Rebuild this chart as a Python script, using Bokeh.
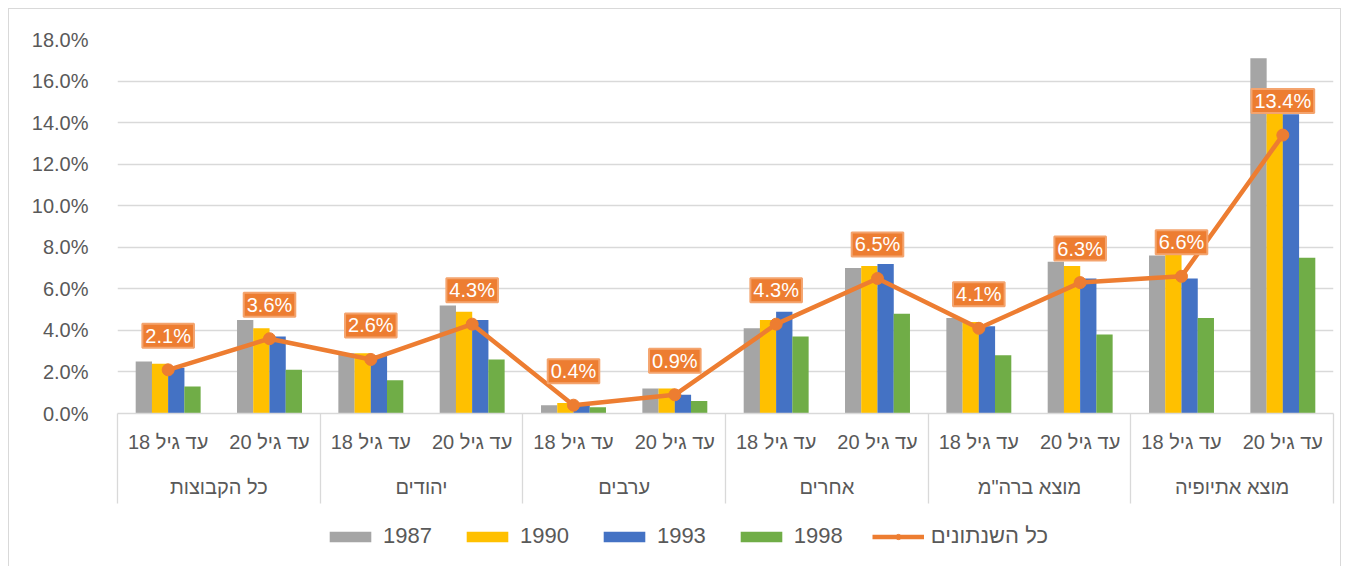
from bokeh.plotting import figure
from bokeh.layouts import column, row
from bokeh.models import (FactorRange, Range1d, ColumnDataSource, SingleIntervalTicker, Spacer,
                          PrintfTickFormatter, LinearAxis, FixedTicker, CustomJSTickFormatter)
from bokeh.transform import dodge
from bokeh.core.properties import value
from bokeh.embed import file_html
from bokeh.resources import INLINE

groups = ["כל הקבוצות", "יהודים", "ערבים", "אחרים", "מוצא ברה\"מ", "מוצא אתיופיה"]
ages = ["עד גיל 18", "עד גיל 20"]
years = ["1987", "1990", "1993", "1998"]
line_name = "כל השנתונים"

v1987 = [2.5, 4.5, 2.9, 5.2, 0.4, 1.2, 4.1, 7.0, 4.6, 7.3, 7.6, 17.1]
v1990 = [2.4, 4.1, 2.9, 4.9, 0.5, 1.2, 4.5, 7.1, 4.4, 7.1, 7.7, 14.6]
v1993 = [2.2, 3.7, 2.8, 4.5, 0.4, 0.9, 4.9, 7.2, 4.2, 6.5, 6.5, 14.4]
v1998 = [1.3, 2.1, 1.6, 2.6, 0.3, 0.6, 3.7, 4.8, 2.8, 3.8, 4.6, 7.5]
all_years = [2.1, 3.6, 2.6, 4.3, 0.4, 0.9, 4.3, 6.5, 4.1, 6.3, 6.6, 13.4]

factors = [(g, a + "\n ") for g in groups for a in ages]

FONT = "Liberation Sans"
GREY_TXT = "#595959"
colors = ["#A5A5A5", "#FFC000", "#4472C4", "#70AD47"]
ORANGE = "#ED7D31"
BORDER = "1px solid #D9D9D9"

p = figure(width=1333, height=505, output_backend="svg", toolbar_location=None,
           x_range=FactorRange(*factors, factor_padding=0, group_padding=0, range_padding=0),
           y_range=Range1d(0, 18),
           min_border_left=108, min_border_right=9, min_border_top=30, min_border_bottom=101)
p.styles = {"border-top": BORDER, "border-left": BORDER, "border-right": BORDER}
p.outline_line_color = None
p.background_fill_color = "white"
p.border_fill_color = "white"

src = ColumnDataSource(dict(x=factors, y1987=v1987, y1990=v1990, y1993=v1993, y1998=v1998,
                            allv=all_years, lab=["%.1f%%" % v for v in all_years]))

offsets = [-0.24, -0.08, 0.08, 0.24]
cols = ["y1987", "y1990", "y1993", "y1998"]
for col, off, c in zip(cols, offsets, colors):
    p.vbar(x=dodge("x", off, range=p.x_range), top=col, width=0.161, source=src,
           fill_color=c, line_color=None)

p.line(x="x", y="allv", source=src, line_color=ORANGE, line_width=4.5)
p.scatter(x="x", y="allv", source=src, size=12, fill_color=ORANGE, line_color=ORANGE)
p.text(x="x", y="allv", text="lab", source=src, text_font=value(FONT), text_font_size="20px",
       text_color="white", text_align="center", text_baseline="middle", y_offset=-34,
       background_fill_color=ORANGE, border_line_color="#F4A46E", border_line_width=2,
       padding=(3, 1))

# y axis
yax = p.yaxis[0]
yax.ticker = SingleIntervalTicker(interval=2, num_minor_ticks=0)
yax.formatter = PrintfTickFormatter(format="%.1f%%")
yax.axis_line_color = None
yax.major_tick_line_color = None
yax.minor_tick_line_color = None
yax.major_label_standoff = 23
yax.major_label_text_font = FONT
yax.major_label_text_font_size = "20px"
yax.major_label_text_color = GREY_TXT

p.xgrid.grid_line_color = None
p.ygrid.grid_line_color = "#D9D9D9"
p.ygrid.grid_line_width = 1.3

# x axis
xax = p.xaxis[0]
xax.axis_line_color = "#D9D9D9"
xax.axis_line_width = 1.3
xax.major_tick_line_color = None
xax.minor_tick_line_color = None
xax.separator_line_color = None
xax.major_label_standoff = 11
xax.major_label_text_font = FONT
xax.major_label_text_font_size = "20px"
xax.major_label_text_line_height = 0.45
xax.major_label_text_color = GREY_TXT
xax.group_text_font = FONT
xax.group_text_font_size = "20px"
xax.group_text_font_style = "normal"
xax.group_text_color = GREY_TXT

# group separators: ticks at group boundaries (synthetic coordinates of the factor range)
sep = LinearAxis(ticker=FixedTicker(ticks=[0, 2, 4, 6, 8, 10, 12]),
                 formatter=CustomJSTickFormatter(code="return ''"))
sep.axis_line_color = None
sep.minor_tick_line_color = None
sep.major_tick_line_color = "#D9D9D9"
sep.major_tick_line_width = 1.3
sep.major_tick_in = 88
sep.major_tick_out = 2
sep.major_label_standoff = 0
sep.major_label_text_font_size = "1px"
p.add_layout(sep, "below")

# legend strip (separate small figure; its renderers use the same data but lie outside its view)
lf = figure(width=1333, height=53, output_backend="svg", toolbar_location=None,
            x_range=Range1d(0, 1), y_range=Range1d(100, 101),
            x_axis_location=None, y_axis_location=None, min_border=0)
lf.styles = {"border-left": BORDER, "border-right": BORDER}
lf.outline_line_color = None
lf.xgrid.grid_line_color = None
lf.ygrid.grid_line_color = None
lf.border_fill_color = "white"
lsrc = ColumnDataSource(dict(i=list(range(len(all_years))), y1987=v1987, y1990=v1990,
                             y1993=v1993, y1998=v1998, allv=all_years))
for col, c, yr in zip(cols, colors, years):
    lf.vbar(x="i", top=col, width=0.1, source=lsrc, fill_color=c, line_color=None, legend_label=yr)
lf.line(x="i", y="allv", source=lsrc, line_color=ORANGE, line_width=4.5, legend_label=line_name)
lf.scatter(x="i", y="allv", source=lsrc, size=12, fill_color=ORANGE, line_color=ORANGE,
           legend_label=line_name)

legend = lf.legend[0]
legend.orientation = "horizontal"
legend.location = (207, 17)
legend.glyph_width = 52
legend.glyph_height = 13
legend.label_standoff = 7
legend.spacing = 29
legend.padding = 0
legend.margin = 0
legend.label_text_font = FONT
legend.label_text_font_size = "22px"
legend.label_text_color = GREY_TXT
legend.background_fill_alpha = 0
legend.border_line_color = None
legend.label_height = 20

layout = column(Spacer(height=8), row(Spacer(width=8), column(p, lf)))
open("out.html", "w").write(file_html(layout, INLINE))
